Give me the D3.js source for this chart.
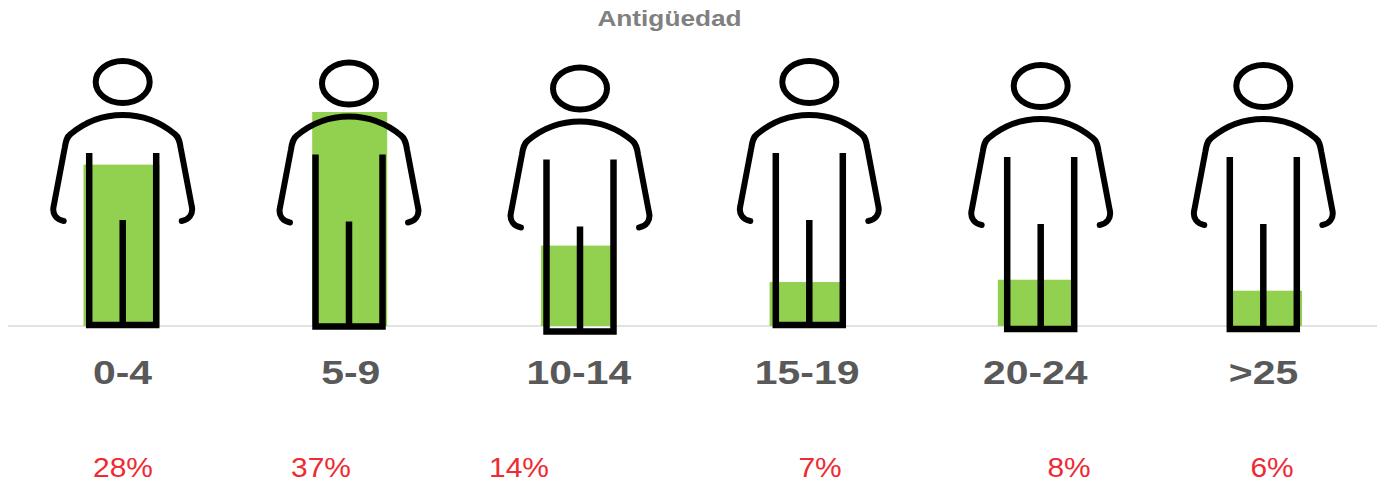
<!DOCTYPE html>
<html><head><meta charset="utf-8">
<script src="https://cdn.jsdelivr.net/npm/d3@7/dist/d3.min.js"></script>
<style>html,body{margin:0;padding:0;background:#fff;overflow:hidden}svg{display:block}text{font-family:"Liberation Sans",Arial,sans-serif}</style>
</head><body><svg id="c" width="1377" height="483"></svg>
<script>
// data
const title = "Antigüedad";
const categories = ["0-4","5-9","10-14","15-19","20-24",">25"];
const percentLabels = ["28%","37%","14%","7%","8%","6%"];
const barValues = [27.9,37,13.9,7.6,8,6.1];
// layout of the pictograms and labels (not data)
const barNudge = [-0.5,-0.5,-2,0,0.5,4];
const barWidth = [76,75,71,74,75,70];
const figureCx = [122.7,349,580,809.3,1040.7,1263.3];
const figureDy = [0,1.5,6.5,0,4,4];
const percentX = [123,321,519,820,1069,1272];

const svg = d3.select("#c");
const W = 1377, H = 483;
const defs = svg.append("defs");
defs.append("filter").attr("id","soft").append("feGaussianBlur").attr("stdDeviation",0.6);

const x = d3.scalePoint().domain(categories).range([122,1263]);
const y = d3.scaleLinear().domain([0,37]).range([326,112]);

svg.append("text").text(title).attr("text-anchor","middle")
  .attr("transform","translate(669.5,26) scale(1.22,1)")
  .attr("font-size",21.5).attr("font-weight","bold").attr("fill","#808080");

svg.append("line").attr("x1",8).attr("x2",W).attr("y1",y(0)).attr("y2",y(0))
  .attr("stroke","#e2e2e2").attr("stroke-width",2);

svg.append("g").selectAll("rect").data(categories).join("rect")
  .attr("x",(d,i)=>x(d)+barNudge[i]-barWidth[i]/2)
  .attr("width",(d,i)=>barWidth[i])
  .attr("y",(d,i)=>y(barValues[i]))
  .attr("height",(d,i)=>y(0)-y(barValues[i]))
  .attr("fill","#92d050").attr("filter","url(#soft)");

// pictogram outline, relative to shoulder-top at (0,0)
function bodyPath(){
  const p = d3.path();
  p.moveTo(-59,106);
  p.bezierCurveTo(-66,105,-71,99,-69,91);
  p.lineTo(-58,33);
  p.bezierCurveTo(-57,26,-56,22,-52,19);
  p.bezierCurveTo(-40,9,-22,0,0,0);
  p.bezierCurveTo(22,0,40,9,52,19);
  p.bezierCurveTo(56,22,57,26,58,33);
  p.lineTo(69,91);
  p.bezierCurveTo(71,99,66,105,59,106);
  return p.toString();
}
function legsPath(){
  const p = d3.path();
  p.moveTo(-33.5,38); p.lineTo(-33.5,210);
  p.lineTo(33.5,210); p.lineTo(33.5,38);
  p.moveTo(0,105); p.lineTo(0,210);
  return p.toString();
}
const fig = svg.append("g").attr("filter","url(#soft)").selectAll("g").data(categories).join("g")
  .attr("transform",(d,i)=>`translate(${figureCx[i]},${115+figureDy[i]})`);
fig.append("ellipse").attr("cx",0).attr("cy",-33).attr("rx",27).attr("ry",21)
  .attr("fill","none").attr("stroke","#000").attr("stroke-width",6);
fig.append("path").attr("d",bodyPath()).attr("fill","none").attr("stroke","#000")
  .attr("stroke-width",6).attr("stroke-linecap","round").attr("stroke-linejoin","round");
fig.append("path").attr("d",legsPath()).attr("fill","none").attr("stroke","#000")
  .attr("stroke-width",6.5).attr("stroke-linecap","butt").attr("stroke-linejoin","miter");

const axis = svg.append("g").attr("transform","translate(0,384)")
  .call(d3.axisBottom(x).tickSize(0).tickPadding(0));
axis.select(".domain").remove();
axis.selectAll("text").attr("y",0).attr("dy",0)
  .attr("transform","scale(1.24,1)")
  .style("font-family",'"Liberation Sans",Arial,sans-serif')
  .style("font-size","33px").style("font-weight","bold").attr("fill","#595959");

svg.append("g").selectAll("text").data(percentLabels).join("text")
  .text(d=>d).attr("text-anchor","middle")
  .attr("transform",(d,i)=>`translate(${percentX[i]},477) scale(1.05,1)`)
  .attr("font-size",28.5).attr("fill","#ee2a33");
</script></body></html>
